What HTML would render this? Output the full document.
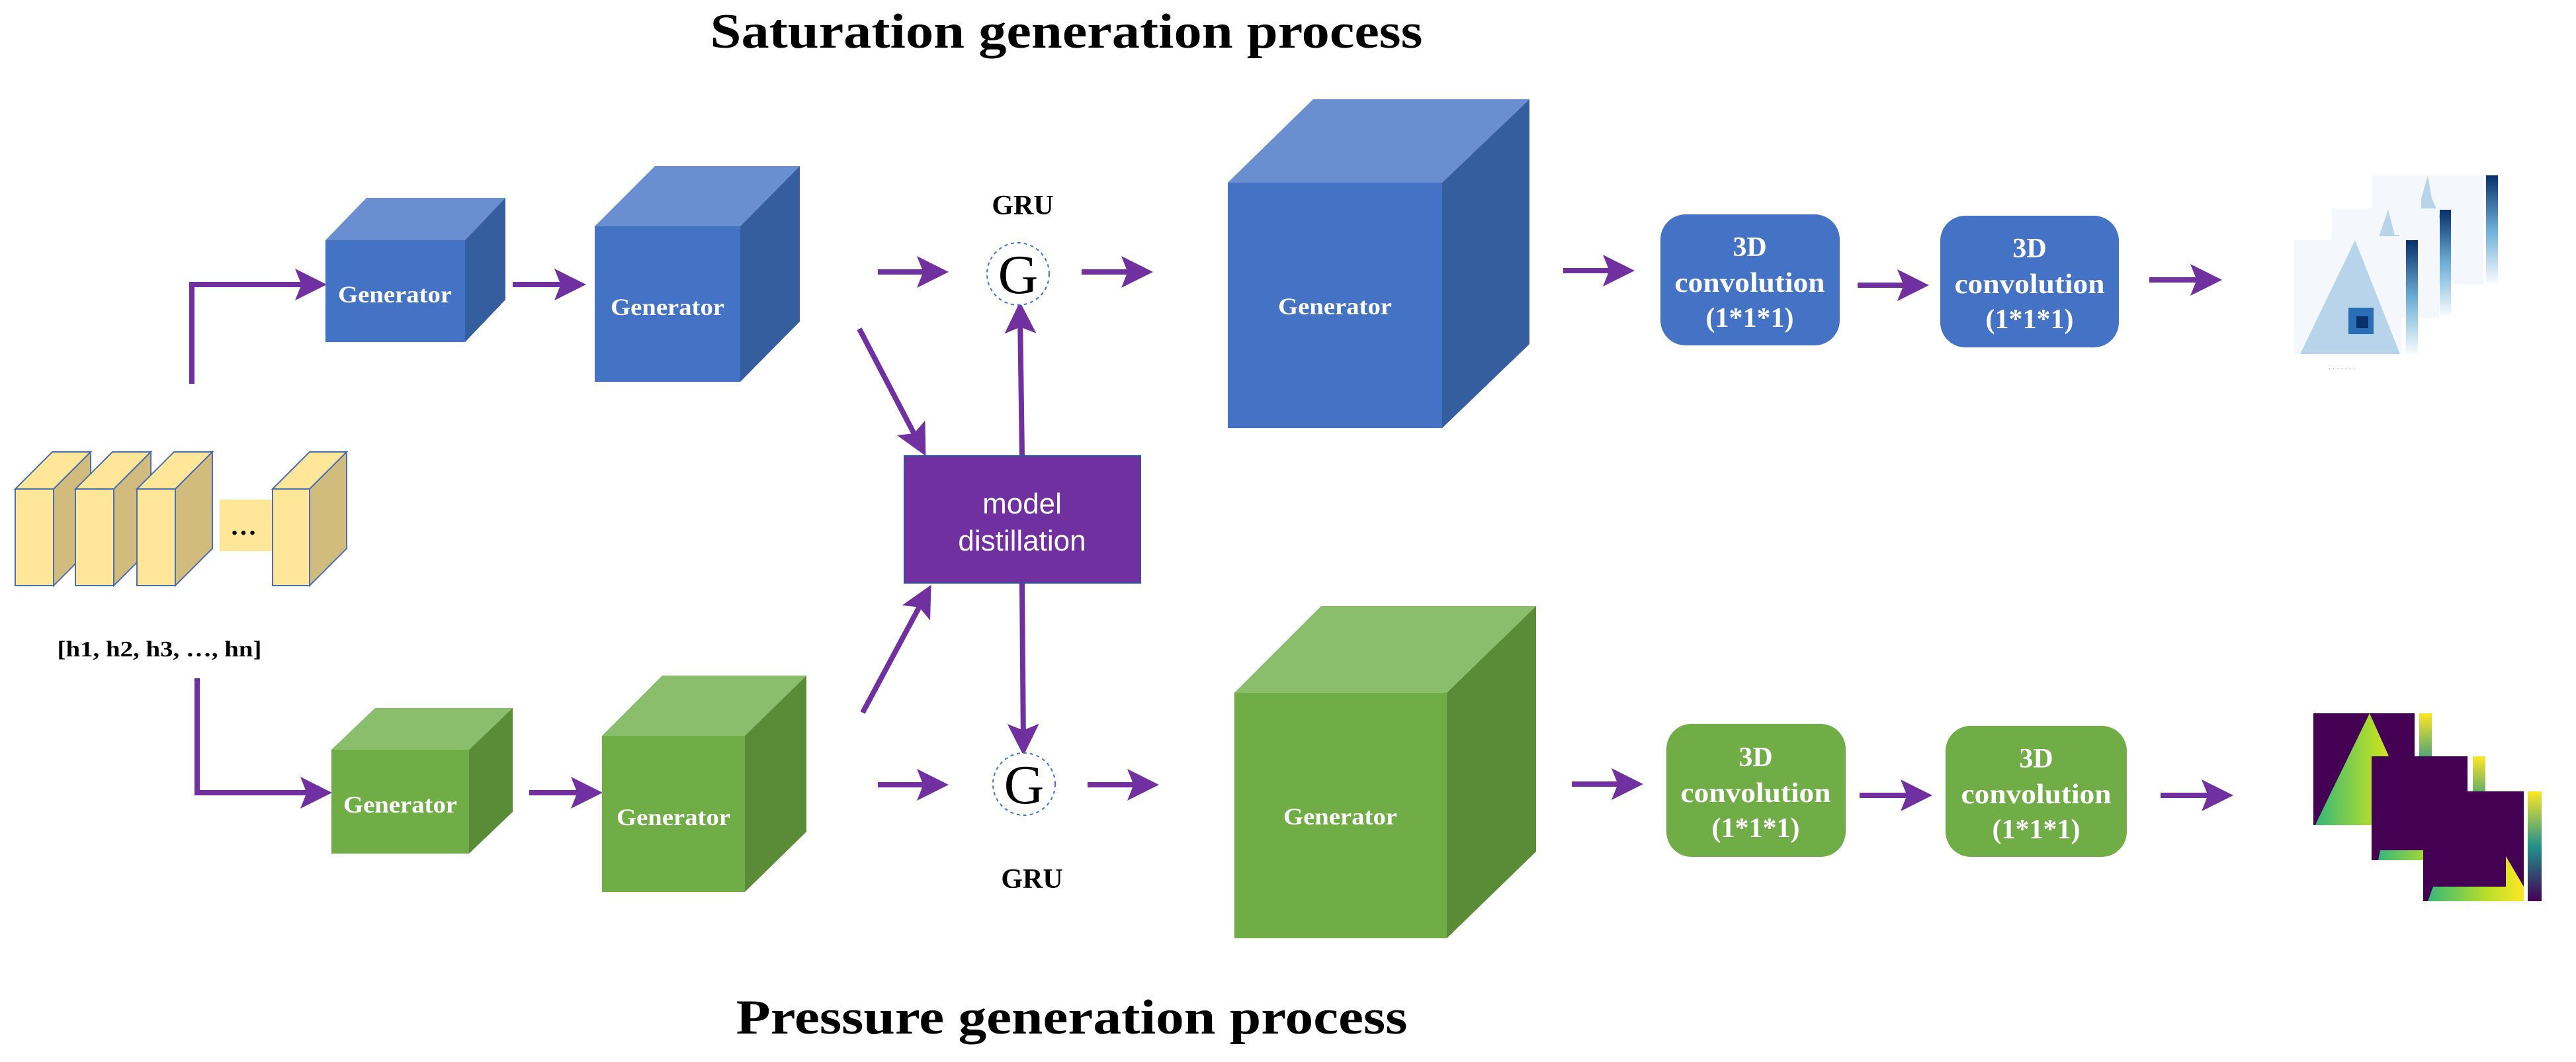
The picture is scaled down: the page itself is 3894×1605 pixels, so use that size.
<!DOCTYPE html>
<html><head><meta charset="utf-8"><style>html,body{margin:0;padding:0;background:#fff}svg{display:block}</style></head>
<body>
<svg width="3894" height="1605" viewBox="0 0 3894 1605" xmlns="http://www.w3.org/2000/svg">
<defs>
<marker id="ah" markerWidth="6" markerHeight="6" refX="4" refY="3" orient="auto" markerUnits="strokeWidth">
<path d="M0,0 L6,3 L0,6 L1.2,3 z" fill="#7030A0"/></marker>
<linearGradient id="bcb" x1="0" y1="1" x2="0" y2="0"><stop offset="0" stop-color="#f7fbff"/><stop offset="0.5" stop-color="#6baed6"/><stop offset="1" stop-color="#08306b"/></linearGradient>
<linearGradient id="vcb" x1="0" y1="1" x2="0" y2="0"><stop offset="0" stop-color="#440154"/><stop offset="0.5" stop-color="#21918c"/><stop offset="1" stop-color="#fde725"/></linearGradient>
<linearGradient id="vh" x1="0" y1="0" x2="1" y2="0"><stop offset="0" stop-color="#35b779"/><stop offset="0.6" stop-color="#b5de2b"/><stop offset="1" stop-color="#fde725"/></linearGradient>
</defs>
<g font-family="Liberation Serif, serif" font-weight="bold">
<text x="1612" y="72" font-size="74" text-anchor="middle" textLength="1077" lengthAdjust="spacingAndGlyphs">Saturation generation process</text>
<text x="1620" y="1562" font-size="74" text-anchor="middle" textLength="1015" lengthAdjust="spacingAndGlyphs">Pressure generation process</text>
</g>

<g stroke="#7030A0" stroke-width="8" fill="none" marker-end="url(#ah)">
<polyline points="290,580 290,430 478,430"/>
<line x1="775" y1="430" x2="870" y2="430"/>
<polyline points="298,1025 298,1198 486,1198"/>
<line x1="800" y1="1198" x2="895" y2="1198"/>
<line x1="1327" y1="411" x2="1418" y2="411"/>
<line x1="1635" y1="411" x2="1727" y2="411"/>
<line x1="1299" y1="497" x2="1392" y2="675"/>
<line x1="1304" y1="1077" x2="1400" y2="898"/>
<line x1="1545" y1="689" x2="1542" y2="472"/>
<line x1="1545" y1="881" x2="1547" y2="1126"/>
<line x1="1327" y1="1186" x2="1418" y2="1186"/>
<line x1="1644" y1="1186" x2="1736" y2="1186"/>
<line x1="2363" y1="409" x2="2455" y2="409"/>
<line x1="2376" y1="1185" x2="2468" y2="1185"/>
<line x1="2808" y1="431" x2="2900" y2="431"/>
<line x1="3249" y1="423" x2="3343" y2="423"/>
<line x1="2811" y1="1202" x2="2905" y2="1202"/>
<line x1="3266" y1="1202" x2="3360" y2="1202"/>
</g>

<!-- yellow slabs -->
<g stroke="#4a6fb0" stroke-width="2">
<g><polygon points="23,739 79,683 137,683 81,739" fill="#FFE699"/><polygon points="81,739 137,683 137,829 81,885" fill="#D1BC7E"/><rect x="23" y="739" width="58" height="146" fill="#FFE699"/></g>
<g><polygon points="114,739 170,683 228,683 172,739" fill="#FFE699"/><polygon points="172,739 228,683 228,829 172,885" fill="#D1BC7E"/><rect x="114" y="739" width="58" height="146" fill="#FFE699"/></g>
<g><polygon points="207,739 263,683 321,683 265,739" fill="#FFE699"/><polygon points="265,739 321,683 321,829 265,885" fill="#D1BC7E"/><rect x="207" y="739" width="58" height="146" fill="#FFE699"/></g>
</g>
<rect x="332" y="755" width="83" height="78" fill="#FFE699"/>
<text x="368" y="808" font-family="Liberation Serif, serif" font-weight="bold" font-size="40" text-anchor="middle">…</text>
<g stroke="#4a6fb0" stroke-width="2"><polygon points="412,739 468,683 524,683 468,739" fill="#FFE699"/><polygon points="468,739 524,683 524,829 468,885" fill="#D1BC7E"/><rect x="412" y="739" width="56" height="146" fill="#FFE699"/></g>
<text x="241" y="992" font-family="Liberation Serif, serif" font-weight="bold" font-size="34" text-anchor="middle" textLength="309" lengthAdjust="spacingAndGlyphs">[h1, h2, h3, …, hn]</text>

<!-- cubes -->
<g font-family="Liberation Serif, serif" font-weight="bold" fill="#fff" text-anchor="middle">
<polygon points="492,363 554,299 764,299 703,363" fill="#6A8FD0"/>
<polygon points="703,363 764,299 764,453 703,517" fill="#355E9E"/>
<rect x="492" y="363" width="211" height="154" fill="#4472C4"/>
<text x="597" y="457" font-size="36" textLength="172" lengthAdjust="spacingAndGlyphs">Generator</text>
<polygon points="899,342 990,251 1209,251 1119,342" fill="#6A8FD0"/>
<polygon points="1119,342 1209,251 1209,486 1119,577" fill="#355E9E"/>
<rect x="899" y="342" width="220" height="235" fill="#4472C4"/>
<text x="1009" y="476" font-size="36" textLength="172" lengthAdjust="spacingAndGlyphs">Generator</text>
<polygon points="501,1133 567,1070 775,1070 709,1133" fill="#8BBE6C"/>
<polygon points="709,1133 775,1070 775,1227 709,1290" fill="#5A8C38"/>
<rect x="501" y="1133" width="208" height="157" fill="#70AD47"/>
<text x="605" y="1228" font-size="36" textLength="172" lengthAdjust="spacingAndGlyphs">Generator</text>
<polygon points="910,1112 1001,1021 1219,1021 1126,1112" fill="#8BBE6C"/>
<polygon points="1126,1112 1219,1021 1219,1257 1126,1348" fill="#5A8C38"/>
<rect x="910" y="1112" width="216" height="236" fill="#70AD47"/>
<text x="1018" y="1247" font-size="36" textLength="172" lengthAdjust="spacingAndGlyphs">Generator</text>
<polygon points="1856,276 1985,150 2312,150 2180,276" fill="#6A8FD0"/>
<polygon points="2180,276 2312,150 2312,520 2180,647" fill="#355E9E"/>
<rect x="1856" y="276" width="324" height="371" fill="#4472C4"/>
<text x="2018" y="475" font-size="36" textLength="172" lengthAdjust="spacingAndGlyphs">Generator</text>
<polygon points="1866,1047 1997,916 2322,916 2187,1047" fill="#8BBE6C"/>
<polygon points="2187,1047 2322,916 2322,1287 2187,1418" fill="#5A8C38"/>
<rect x="1866" y="1047" width="321" height="371" fill="#70AD47"/>
<text x="2026" y="1246" font-size="36" textLength="172" lengthAdjust="spacingAndGlyphs">Generator</text>

<rect x="2510" y="324" width="271" height="198" rx="38" fill="#4472C4"/>
<text x="2645" y="387" font-size="42">3D</text><text x="2645" y="441" font-size="42" textLength="227" lengthAdjust="spacingAndGlyphs">convolution</text><text x="2645" y="494" font-size="42">(1*1*1)</text>
<rect x="2933" y="326" width="270" height="199" rx="38" fill="#4472C4"/>
<text x="3068" y="389" font-size="42">3D</text><text x="3068" y="443" font-size="42" textLength="227" lengthAdjust="spacingAndGlyphs">convolution</text><text x="3068" y="496" font-size="42">(1*1*1)</text>
<rect x="2519" y="1094" width="271" height="201" rx="38" fill="#70AD47"/>
<text x="2654" y="1158" font-size="42">3D</text><text x="2654" y="1212" font-size="42" textLength="227" lengthAdjust="spacingAndGlyphs">convolution</text><text x="2654" y="1265" font-size="42">(1*1*1)</text>
<rect x="2941" y="1097" width="274" height="198" rx="38" fill="#70AD47"/>
<text x="3078" y="1160" font-size="42">3D</text><text x="3078" y="1214" font-size="42" textLength="227" lengthAdjust="spacingAndGlyphs">convolution</text><text x="3078" y="1267" font-size="42">(1*1*1)</text>
</g>

<g font-family="Liberation Serif, serif">
<text x="1546" y="324" font-size="42" font-weight="bold" text-anchor="middle">GRU</text>
<circle cx="1539" cy="414" r="47" fill="#fff" stroke="#4472C4" stroke-width="2" stroke-dasharray="5,5"/>
<text x="1539" y="443" font-size="84" text-anchor="middle">G</text>
<circle cx="1548" cy="1185" r="47" fill="#fff" stroke="#4472C4" stroke-width="2" stroke-dasharray="5,5"/>
<text x="1548" y="1214" font-size="84" text-anchor="middle">G</text>
<text x="1560" y="1342" font-size="42" font-weight="bold" text-anchor="middle">GRU</text>
</g>
<rect x="1367" y="689" width="357" height="192" fill="#7030A0" stroke="#2F5597" stroke-width="2"/>
<g font-family="Liberation Sans, sans-serif" font-size="44" fill="#fff" text-anchor="middle">
<text x="1545" y="776">model</text><text x="1545" y="832">distillation</text></g>

<g>
<rect x="3586" y="265" width="168" height="165" fill="#f4f8fd"/>
<polygon points="3660,300 3670,265 3676,300 3690,330 3660,330" fill="#b7d4ea"/>
<rect x="3758" y="265" width="18" height="163" fill="url(#bcb)"/>
<rect x="3525" y="315" width="162" height="165" fill="#f4f8fd"/>
<polygon points="3597,355 3610,317 3620,355 3627,355 3627,357 3597,357" fill="#b7d4ea"/>
<rect x="3688" y="317" width="17" height="160" fill="url(#bcb)"/>
<rect x="3468" y="363" width="162" height="172" fill="#f4f8fd"/>
<polygon points="3560,363 3628,535 3477,535" fill="#b7d4ea"/>
<rect x="3550" y="465" width="38" height="40" fill="#2a6fb5"/>
<rect x="3562" y="478" width="18" height="18" fill="#08306b"/>
<rect x="3637" y="363" width="18" height="172" fill="url(#bcb)"/>
<text x="3520" y="560" font-family="Liberation Sans, sans-serif" font-size="10" fill="#555">· · · · · · ·</text>
</g>

<g>
<rect x="3497" y="1078" width="153" height="169" fill="#440154"/>
<polygon points="3582,1078 3650,1230 3650,1247 3500,1247 3504,1238" fill="url(#vh)"/>
<rect x="3657" y="1078" width="19" height="169" fill="url(#vcb)"/>
<rect x="3585" y="1143" width="145" height="157" fill="#440154"/>
<polygon points="3700,1240 3730,1290 3730,1300 3595,1300 3598,1285 3700,1285" fill="url(#vh)"/>
<rect x="3703" y="1238" width="3" height="48" fill="#fde725"/>
<rect x="3738" y="1143" width="19" height="159" fill="url(#vcb)"/>
<rect x="3663" y="1196" width="152" height="166" fill="#440154"/>
<polygon points="3788,1294 3815,1340 3815,1362 3670,1362 3678,1340 3788,1340" fill="url(#vh)"/>
<rect x="3821" y="1196" width="21" height="166" fill="url(#vcb)"/>
</g>
</svg>
</body></html>
